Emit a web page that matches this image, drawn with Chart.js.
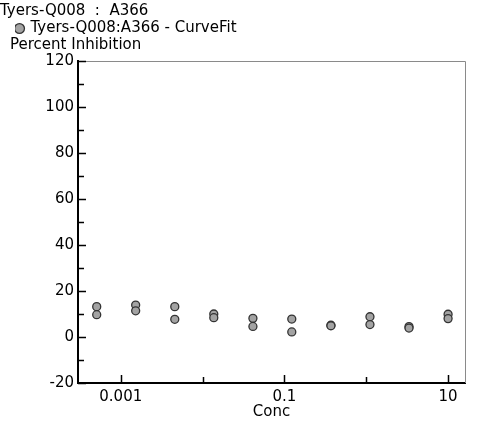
<!DOCTYPE html>
<html>
<head>
<meta charset="utf-8">
<script src="https://cdn.jsdelivr.net/npm/chart.js@4"></script>
<style>
  html, body { margin: 0; padding: 0; background: #fff; }
  #wrap { width: 500px; height: 421px; }
</style>
</head>
<body>
<div id="wrap"><canvas id="curve_chart" width="500" height="421"></canvas></div>
<script>
var conc = [0.000508, 0.00152, 0.00457, 0.0137, 0.0412, 0.123, 0.370, 1.11, 3.33, 10];
var rep1 = [13.2, 13.9, 13.2, 10.0, 8.1, 7.8, 5.1, 8.8, 4.5, 9.9];
var rep2 = [9.7, 11.4, 7.7, 8.4, 4.6, 2.2, 4.9, 5.4, 3.9, 8.0];
var xTicks = [0.001, 0.01, 0.1, 1, 10];
var xLabels = [0.001, 0.1, 10];

var FONT = '"DejaVu Sans", "Liberation Sans", Arial, sans-serif';

var points = [];
conc.forEach(function (c, i) {
    points.push({ x: c, y: rep1[i] });
    points.push({ x: c, y: rep2[i] });
});

//Extra room under the legend and legend indent
var legendPlugin = {
    id: 'legendSpace',
    beforeInit: function (chart) {
        var fit = chart.legend.fit;
        chart.legend.fit = function () {
            fit.bind(chart.legend)();
            this.height += 15;
        };
    },
    beforeDraw: function (chart) {
        var w = chart.legend.right - chart.legend.left;
        chart.legend.left = 15;
        chart.legend.right = 15 + w;
    }
};

//Inner ticks, frame and y-axis caption
var framePlugin = {
    id: 'frame',
    afterDraw: function (chart) {
        var ctx = chart.ctx, a = chart.chartArea;
        var xs = chart.scales.x, ys = chart.scales.y;
        ctx.save();
        ctx.strokeStyle = '#8a8a8a';
        ctx.lineWidth = 1;
        ctx.beginPath();
        ctx.moveTo(a.left, a.top + 0.5);
        ctx.lineTo(a.right + 0.5, a.top + 0.5);
        ctx.lineTo(a.right + 0.5, a.bottom);
        ctx.stroke();

        ctx.strokeStyle = '#000';
        ctx.lineWidth = 1.5;
        ctx.beginPath();
        for (var v = -20; v <= 120; v += 10) {
            var py = Math.round(ys.getPixelForValue(v)) + 0.5;
            var len = (v % 20 === 0) ? 8 : 6;
            ctx.moveTo(a.left, py);
            ctx.lineTo(a.left + len, py);
        }
        xTicks.forEach(function (t) {
            var px = Math.round(xs.getPixelForValue(t)) + 0.5;
            var len = xLabels.indexOf(t) >= 0 ? 8 : 6;
            ctx.moveTo(px, a.bottom);
            ctx.lineTo(px, a.bottom - len);
        });
        ctx.stroke();

        ctx.fillStyle = '#000';
        ctx.font = '15px ' + FONT;
        ctx.textBaseline = 'middle';
        ctx.fillText('Percent Inhibition', 10, 45);
        ctx.restore();
    }
};

var config = {
    type: 'scatter',
    data: {
        datasets: [{
            label: 'Tyers-Q008:A366 - CurveFit',
            data: points,
            backgroundColor: '#a3a3a3',
            borderColor: '#333333',
            borderWidth: 1.3,
            pointRadius: 4,
            pointHoverRadius: 4
        }]
    },
    options: {
        responsive: false,
        animation: false,
        layout: { padding: { left: 0, right: 35, top: 0, bottom: 0 } },
        plugins: {
            tooltip: { enabled: false },
            title: {
                display: true,
                text: 'Tyers-Q008  :  A366',
                align: 'start',
                color: '#000',
                font: { family: FONT, size: 15, weight: 'normal' },
                padding: { top: 2, bottom: 0 }
            },
            legend: {
                display: true,
                align: 'start',
                labels: {
                    color: '#000',
                    font: { family: FONT, size: 15 },
                    usePointStyle: true,
                    boxWidth: 7,
                    boxHeight: 7,
                    padding: 1
                }
            }
        },
        scales: {
            x: {
                type: 'logarithmic',
                min: 0.000307,
                max: 16.1,
                afterBuildTicks: function (scale) {
                    scale.ticks = xTicks.map(function (v) { return { value: v }; });
                },
                ticks: {
                    autoSkip: false,
                    maxRotation: 0,
                    padding: 5,
                    color: '#000',
                    font: { family: FONT, size: 15 },
                    callback: function (value) {
                        return xLabels.indexOf(value) >= 0 ? String(value) : '';
                    }
                },
                grid: { display: false, drawTicks: false },
                border: { display: true, color: '#000', width: 2 },
                title: {
                    display: true,
                    text: 'Conc',
                    color: '#000',
                    font: { family: FONT, size: 15 },
                    padding: { top: 0, bottom: 0 }
                },
                afterFit: function (scale) { scale.height = 38; }
            },
            y: {
                min: -20,
                max: 120,
                ticks: {
                    stepSize: 20,
                    padding: 4,
                    color: '#000',
                    font: { family: FONT, size: 15 }
                },
                grid: { display: false, drawTicks: false },
                border: { display: true, color: '#000', width: 2 },
                afterFit: function (scale) { scale.width = 78; }
            }
        }
    },
    plugins: [legendPlugin, framePlugin]
};

var chart = new Chart(document.getElementById('curve_chart').getContext('2d'), config);
</script>
</body>
</html>
